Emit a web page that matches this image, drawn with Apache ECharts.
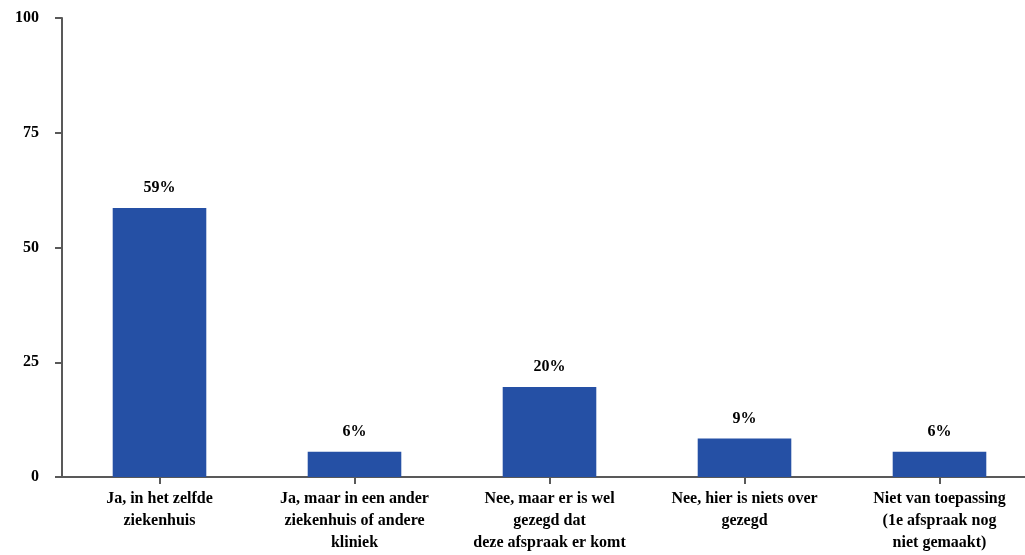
<!DOCTYPE html>
<html>
<head>
<meta charset="utf-8">
<script src="https://cdn.jsdelivr.net/npm/echarts@6/dist/echarts.min.js"></script>
<style>
html,body{margin:0;padding:0;background:#fff;}
#chart{width:1025px;height:555px;}
</style>
</head>
<body>
<div id="chart"></div>
<script>
var categories = [
  "Ja, in het zelfde\nziekenhuis",
  "Ja, maar in een ander\nziekenhuis of andere\nkliniek",
  "Nee, maar er is wel\ngezegd dat\ndeze afspraak er komt",
  "Nee, hier is niets over\ngezegd",
  "Niet van toepassing\n(1e afspraak nog\nniet gemaakt)"
];
var values = [58.6, 5.5, 19.6, 8.4, 5.5];
var valueLabels = ["59%", "6%", "20%", "9%", "6%"];
var yTicks = [0, 25, 50, 75, 100];

var font = "'Liberation Serif', 'Times New Roman', serif";
var chart = echarts.init(document.getElementById('chart'));
chart.setOption({
  animation: false,
  backgroundColor: '#ffffff',
  grid: { left: 62, top: 18, width: 975, bottom: 78, containLabel: false, outerBoundsMode: 'none' },
  xAxis: {
    type: 'category',
    data: categories,
    axisLine: { show: true, lineStyle: { color: '#595959', width: 2 } },
    axisTick: { show: true, alignWithLabel: true, length: 7, lineStyle: { color: '#595959', width: 2 } },
    axisLabel: {
      interval: 0, margin: 11, color: '#000', fontFamily: font, fontWeight: 'bold',
      fontSize: 16, lineHeight: 22
    }
  },
  yAxis: {
    type: 'value',
    min: yTicks[0], max: yTicks[yTicks.length - 1], interval: 25,
    axisLine: { show: true, lineStyle: { color: '#595959', width: 2 } },
    axisTick: { show: true, length: 7, lineStyle: { color: '#595959', width: 2 } },
    splitLine: { show: false },
    axisLabel: { margin: 23, color: '#000', fontFamily: font, fontWeight: 'bold', fontSize: 16 }
  },
  series: [{
    type: 'bar',
    data: values,
    barWidth: '48%',
    itemStyle: { color: '#2550A5' },
    label: {
      show: true, position: 'top', distance: 12,
      color: '#000', fontFamily: font, fontWeight: 'bold', fontSize: 16,
      formatter: function (p) { return valueLabels[p.dataIndex]; }
    }
  }]
});
</script>
</body>
</html>
